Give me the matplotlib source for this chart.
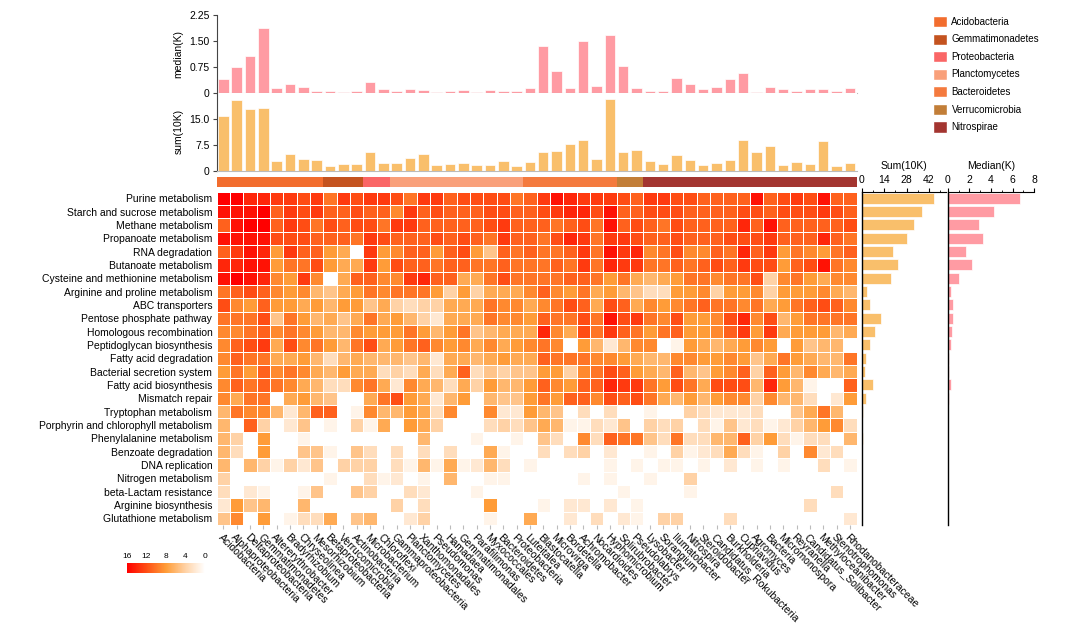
import numpy as np
import matplotlib
matplotlib.use("Agg")
import matplotlib.pyplot as plt
from matplotlib.colors import LinearSegmentedColormap, ListedColormap
from matplotlib.patches import Patch
from matplotlib.ticker import AutoMinorLocator

plt.rcParams["font.family"] = ["Liberation Sans", "DejaVu Sans"]

genera = [
    "Acidobacteria", "Alphaproteobacteria", "Deltaproteobacteria", "Gemmatimonadetes",
    "Altererythrobacter", "Bradyrhizobium", "Chryseolinea", "Mesorhizobium",
    "Betaproteobacteria", "Verrucomicrobia", "Actinobacteria", "Microbacterium",
    "Chloroflexi", "Gammaproteobacteria", "Planctomycetes", "Xanthomonadales",
    "Pseudomonas", "Hamadaea", "Gemmatimonadales", "Parafilimonas",
    "Myxococcales", "Bacteroidetes", "Proteobacteria", "Luteitalea",
    "Blastocatella", "Microvirga", "Bordetella", "Achromobacter",
    "Nocardioides", "Hyphomicrobium", "Solirubrobacter", "Pseudolabrys",
    "Lysobacter", "Sorangium", "Ilumatobacter", "Nitrospira",
    "Steroidobacter", "Candidatus_Rokubacteria", "Burkholderia", "Cupriavidus",
    "Agromyces", "Bacteria", "Micromonospora", "Reyranella",
    "Candidatus_Solibacter", "Methyloceanibacter", "Stenotrophomonas", "Rhodanobacteraceae",
]

pathways = [
    "Purine metabolism", "Starch and sucrose metabolism", "Methane metabolism",
    "Propanoate metabolism", "RNA degradation", "Butanoate metabolism",
    "Cysteine and methionine metabolism", "Arginine and proline metabolism",
    "ABC transporters", "Pentose phosphate pathway", "Homologous recombination",
    "Peptidoglycan biosynthesis", "Fatty acid degradation", "Bacterial secretion system",
    "Fatty acid biosynthesis", "Mismatch repair", "Tryptophan metabolism",
    "Porphyrin and chlorophyll metabolism", "Phenylalanine metabolism",
    "Benzoate degradation", "DNA replication", "Nitrogen metabolism",
    "beta-Lactam resistance", "Arginine biosynthesis", "Glutathione metabolism",
]

phyla = ["Acidobacteria", "Gemmatimonadetes", "Proteobacteria", "Planctomycetes",
         "Bacteroidetes", "Verrucomicrobia", "Nitrospirae"]
phylum_colors = ["#F26D2E", "#C4531F", "#FA6666", "#F9A07A", "#F47A3E", "#C27E38", "#A33530"]
phylum_counts = [8, 3, 2, 10, 7, 2, 16]

median_k = [0.40, 0.75, 1.06, 1.86, 0.15, 0.26, 0.16, 0.05, 0.04, 0.02, 0.06, 0.32,
            0.10, 0.05, 0.12, 0.08, 0.01, 0.05, 0.07, 0.01, 0.07, 0.05, 0.04, 0.15,
            1.35, 0.62, 0.14, 1.49, 0.20, 1.66, 0.77, 0.13, 0.06, 0.06, 0.42, 0.25,
            0.11, 0.17, 0.41, 0.57, 0.02, 0.16, 0.11, 0.06, 0.12, 0.11, 0.05, 0.14]

sum_10k = [15.9, 20.4, 17.9, 18.2, 2.7, 4.9, 3.3, 3.1, 1.5, 1.9, 2.0, 5.5,
           2.3, 2.1, 3.6, 4.7, 1.7, 2.0, 2.1, 1.6, 1.7, 2.8, 1.5, 2.4,
           5.4, 5.6, 7.8, 9.0, 3.3, 20.6, 5.3, 6.0, 2.9, 2.0, 4.5, 3.0,
           1.7, 2.3, 3.2, 8.8, 5.4, 7.0, 1.7, 2.4, 1.9, 8.7, 1.4, 2.3]

path_sum = [45.3, 37.4, 32.8, 28.3, 19.3, 22.9, 18.1, 3.1, 5.0, 11.9, 8.3, 5.4, 2.9,
            2.3, 7.1, 2.5, 1.0, 0.4, 1.0, 0.4, 0.2, 0.1, 0.1, 0.1, 0.3]
path_median = [6.68, 4.31, 2.89, 3.26, 1.66, 2.25, 1.05, 0.28, 0.46, 0.52, 0.37, 0.31, 0.12,
               0.15, 0.28, 0.12, 0.03, 0.0, 0.0, 0.0, 0.0, 0.0, 0.0, 0.0, 0.0]

heat = [
    [16, 16, 14, 14, 13, 13, 12, 13, 10, 13, 12, 13, 13, 12, 10, 13, 13, 11, 12, 12, 12, 12, 10, 11,
     13, 15, 14, 13, 13, 13, 12, 11, 13, 13, 12, 12, 11, 11, 11, 11, 15, 11, 12, 13, 12, 15, 11, 11],
    [15, 15, 15, 16, 11, 13, 12, 13, 11, 11, 12, 11, 11, 9, 13, 11, 12, 11, 11, 11, 12, 12, 11, 11,
     12, 13, 14, 14, 12, 15, 11, 11, 12, 12, 12, 11, 11, 11, 11, 12, 12, 11, 12, 12, 12, 13, 12, 11],
    [11, 15, 16, 16, 11, 13, 12, 10, 12, 11, 12, 12, 10, 13, 13, 11, 11, 11, 11, 11, 12, 13, 11, 11,
     11, 10, 11, 12, 10, 15, 11, 12, 11, 10, 12, 11, 11, 11, 11, 14, 11, 15, 11, 11, 11, 11, 11, 12],
    [15, 15, 15, 15, 12, 12, 12, 11, 11, 11, 10, 13, 12, 11, 11, 11, 12, 11, 12, 11, 10, 13, 11, 11,
     10, 12, 14, 13, 10, 13, 13, 12, 11, 11, 12, 11, 11, 11, 12, 12, 12, 13, 11, 11, 11, 14, 11, 10],
    [11, 13, 15, 14, 8, 13, 11, 11, 8, 7, 0, 13, 8, 9, 11, 11, 8, 11, 12, 8, 5, 11, 10, 11,
     10, 10, 11, 13, 10, 15, 13, 14, 9, 10, 12, 9, 9, 11, 10, 14, 11, 13, 8, 10, 9, 8, 10, 11],
    [14, 14, 15, 15, 8, 10, 10, 12, 8, 7, 7, 13, 8, 12, 11, 11, 10, 11, 11, 10, 10, 11, 10, 10,
     10, 11, 10, 13, 10, 14, 13, 13, 10, 10, 11, 10, 11, 12, 11, 13, 12, 12, 8, 11, 12, 15, 10, 9],
    [15, 16, 15, 14, 9, 8, 13, 9, 0, 7, 11, 11, 9, 9, 13, 14, 11, 11, 7, 7, 10, 12, 10, 10,
     10, 10, 11, 11, 10, 8, 10, 7, 6, 7, 8, 10, 10, 9, 10, 10, 12, 4, 9, 10, 8, 7, 9, 9],
    [10, 11, 12, 11, 9, 8, 9, 6, 5, 7, 8, 10, 9, 10, 10, 10, 8, 4, 8, 4, 7, 7, 7, 9,
     11, 9, 8, 10, 7, 8, 6, 5, 3, 3, 8, 8, 9, 4, 8, 8, 9, 4, 8, 8, 8, 9, 7, 6],
    [12, 9, 8, 11, 8, 8, 7, 8, 6, 8, 8, 5, 7, 4, 3, 4, 4, 7, 7, 7, 10, 9, 9, 7,
     9, 10, 12, 11, 7, 12, 11, 7, 9, 8, 9, 10, 11, 10, 10, 9, 10, 7, 8, 10, 11, 12, 11, 9],
    [10, 10, 10, 12, 5, 10, 8, 6, 7, 5, 7, 10, 7, 8, 6, 4, 2, 7, 7, 7, 10, 9, 9, 8,
     11, 10, 10, 12, 10, 15, 12, 13, 10, 9, 12, 8, 8, 9, 12, 14, 9, 12, 6, 8, 10, 10, 10, 10],
    [9, 9, 10, 11, 9, 10, 9, 8, 6, 6, 9, 8, 8, 8, 10, 8, 6, 8, 10, 5, 6, 7, 7, 7,
     14, 9, 7, 12, 10, 13, 11, 10, 8, 10, 11, 8, 8, 9, 11, 13, 8, 13, 7, 8, 8, 8, 6, 7],
    [9, 11, 12, 13, 7, 12, 9, 10, 8, 6, 10, 12, 7, 8, 10, 11, 9, 8, 9, 7, 9, 7, 8, 9,
     10, 9, 0, 8, 6, 2, 6, 9, 9, 0, 1, 8, 7, 6, 7, 8, 9, 8, 0, 8, 5, 6, 6, 0],
    [9, 11, 10, 10, 7, 7, 8, 6, 3, 6, 7, 6, 6, 6, 5, 6, 2, 7, 7, 6, 7, 8, 7, 7,
     11, 10, 10, 10, 9, 9, 8, 7, 6, 6, 9, 9, 8, 8, 9, 8, 5, 7, 10, 8, 7, 6, 6, 10],
    [8, 10, 8, 11, 9, 10, 9, 7, 6, 8, 7, 7, 3, 4, 3, 7, 3, 7, 11, 3, 5, 4, 5, 5,
     8, 8, 4, 9, 10, 12, 11, 8, 7, 6, 11, 6, 5, 8, 9, 11, 4, 11, 8, 6, 9, 7, 6, 7],
    [9, 11, 10, 11, 10, 9, 7, 6, 3, 3, 9, 10, 7, 2, 9, 7, 6, 3, 7, 4, 8, 6, 6, 8,
     11, 9, 8, 11, 11, 14, 13, 13, 10, 8, 12, 10, 7, 12, 12, 12, 6, 14, 8, 6, 1, 0, 0, 11],
    [9, 7, 10, 10, 0, 7, 8, 6, 5, 0, 0, 7, 10, 12, 8, 7, 2, 6, 8, 0, 6, 5, 5, 8,
     10, 8, 11, 11, 9, 12, 11, 12, 10, 7, 6, 8, 6, 8, 9, 9, 4, 9, 6, 6, 3, 0, 2, 8],
    [6, 10, 9, 9, 6, 2, 6, 11, 11, 0, 1, 9, 6, 6, 8, 7, 3, 9, 0, 0, 9, 2, 2, 8,
     6, 5, 0, 3, 0, 3, 0, 0, 1, 0, 0, 4, 3, 2, 2, 2, 3, 0, 0, 5, 7, 10, 6, 0],
    [6, 0, 11, 4, 0, 2, 5, 0, 1, 0, 4, 1, 7, 0, 8, 7, 4, 0, 0, 0, 3, 4, 3, 5,
     7, 6, 1, 1, 3, 2, 5, 0, 4, 3, 4, 0, 3, 1, 5, 2, 3, 1, 2, 4, 6, 8, 9, 3],
    [6, 4, 0, 8, 0, 0, 1, 0, 0, 0, 0, 0, 0, 0, 0, 6, 0, 0, 0, 1, 0, 0, 1, 0,
     5, 3, 0, 9, 3, 11, 10, 10, 5, 3, 10, 3, 3, 6, 6, 11, 4, 8, 3, 1, 3, 3, 0, 6],
    [6, 3, 0, 8, 0, 0, 5, 5, 1, 0, 5, 3, 0, 3, 0, 3, 0, 3, 0, 0, 7, 1, 0, 0,
     3, 0, 3, 4, 0, 2, 0, 0, 1, 0, 4, 1, 2, 3, 7, 3, 1, 0, 4, 0, 9, 2, 3, 0],
    [6, 0, 6, 4, 1, 4, 2, 5, 0, 4, 4, 4, 0, 3, 1, 6, 1, 7, 1, 2, 6, 3, 0, 1,
     0, 0, 0, 0, 0, 1, 0, 1, 0, 1, 1, 0, 1, 0, 2, 0, 1, 0, 1, 0, 0, 3, 0, 1],
    [4, 0, 0, 0, 0, 0, 0, 0, 1, 0, 0, 3, 1, 2, 0, 1, 0, 6, 0, 0, 1, 1, 0, 0,
     0, 0, 0, 1, 0, 1, 0, 0, 1, 0, 0, 4, 0, 0, 0, 0, 0, 0, 0, 0, 0, 0, 0, 0],
    [3, 0, 2, 1, 0, 0, 1, 5, 0, 0, 5, 4, 0, 0, 3, 2, 0, 0, 0, 1, 0, 0, 0, 0,
     0, 0, 0, 0, 0, 0, 1, 0, 0, 0, 0, 1, 0, 0, 0, 0, 0, 0, 0, 0, 0, 0, 3, 0],
    [2, 8, 5, 6, 0, 0, 6, 0, 0, 0, 0, 0, 0, 4, 0, 3, 0, 0, 0, 0, 8, 0, 0, 0,
     1, 0, 2, 2, 0, 2, 0, 1, 0, 0, 0, 0, 0, 0, 0, 0, 0, 0, 0, 0, 3, 0, 0, 0],
    [5, 9, 0, 8, 0, 1, 3, 3, 7, 0, 5, 6, 0, 0, 2, 4, 0, 0, 0, 0, 1, 0, 0, 7,
     0, 0, 2, 0, 3, 0, 2, 1, 0, 4, 4, 0, 0, 0, 3, 0, 0, 0, 0, 0, 0, 0, 0, 2],
]

W, H = 1080, 630
MED_COLOR = "#FF9BA3"
SUM_COLOR = "#F9BF6B"
FS = 7.5


def px(x, y, w, h):
    """Pixel box (left, top, width, height) -> figure fraction rect."""
    return [x / W, 1 - (y + h) / H, w / W, h / H]


fig = plt.figure(figsize=(W / 100, H / 100), dpi=100)

heat = np.array(heat)
n_rows, n_cols = heat.shape
xc = np.arange(n_cols) + 0.5

cmap = LinearSegmentedColormap.from_list(
    "heat", [(0, "#FFFFFF"), (0.25, "#FFD2A6"), (0.5, "#FF9D38"),
             (0.75, "#FF4E14"), (1, "#FF0000")])

# heatmap
ax = fig.add_axes(px(216.5, 191.5, 640, 333.5))
mesh = ax.pcolormesh(np.arange(n_cols + 1), np.arange(n_rows + 1), heat, cmap=cmap,
                     vmin=0, vmax=16, edgecolors="white", linewidth=0.6)
ax.set_xlim(0, n_cols)
ax.set_ylim(n_rows, 0)
ax.set_yticks(np.arange(n_rows) + 0.5)
ax.set_yticklabels(pathways, fontsize=FS)
ax.tick_params(axis="y", length=0, pad=3)
ax.set_xticks(xc)
ax.set_xticklabels(genera, fontsize=FS, rotation=-45, ha="left", va="top",
                   rotation_mode="anchor")
ax.tick_params(axis="x", length=3, color="#BBBBBB", pad=2)
for s in ax.spines.values():
    s.set_visible(False)

# phylum strip
ax_ph = fig.add_axes(px(216.5, 176.7, 640, 10.6))
ph_idx = np.repeat(np.arange(len(phyla)), phylum_counts)
ax_ph.pcolormesh(np.arange(n_cols + 1), [0, 1], ph_idx[np.newaxis, :],
                 cmap=ListedColormap(phylum_colors), vmin=-0.5, vmax=len(phyla) - 0.5)
ax_ph.set_xlim(0, n_cols)
ax_ph.set_ylim(0, 1)
ax_ph.axis("off")

# top bars: median and sum
ax_med = fig.add_axes(px(216.5, 15, 640, 77.7))
ax_med.bar(xc, median_k, width=0.8, color=MED_COLOR, edgecolor="white", linewidth=0.5)
ax_med.set_xlim(0, n_cols)
ax_med.set_ylim(0, 2.25)
ax_med.set_yticks([0, 0.75, 1.5, 2.25])
ax_med.set_yticklabels(["0", "0.75", "1.50", "2.25"])
ax_med.set_ylabel("median(K)", fontsize=FS)

ax_sum = fig.add_axes(px(216.5, 92.7, 640, 78))
ax_sum.bar(xc, sum_10k, width=0.8, color=SUM_COLOR, edgecolor="white", linewidth=0.5)
ax_sum.set_xlim(0, n_cols)
ax_sum.set_ylim(0, 22.5)
ax_sum.set_yticks([0, 7.5, 15])
ax_sum.set_yticklabels(["0", "7.5", "15.0"])
ax_sum.set_ylabel("sum(10K)", fontsize=FS)

for a in (ax_med, ax_sum):
    a.set_xticks([])
    a.tick_params(axis="y", labelsize=FS, length=3, color="#444444", pad=2)
    a.spines["top"].set_visible(False)
    a.spines["right"].set_visible(False)
    a.spines["bottom"].set_color("#BBBBBB")
    a.spines["left"].set_color("#444444")
    a.spines["left"].set_linewidth(0.8)

# right bars
yc = np.arange(n_rows) + 0.5
ax_rs = fig.add_axes(px(861.7, 191.5, 84, 333.5))
ax_rs.barh(yc, path_sum, height=0.82, color=SUM_COLOR, edgecolor="white", linewidth=0.5)
ax_rs.set_xlim(0, 52.5)
ax_rs.set_xticks([0, 14, 28, 42])
ax_rs.set_xlabel("Sum(10K)", fontsize=FS, labelpad=4)

ax_rm = fig.add_axes(px(947.7, 191.5, 86.6, 333.5))
ax_rm.barh(yc, path_median, height=0.82, color=MED_COLOR, edgecolor="white", linewidth=0.5)
ax_rm.set_xlim(0, 8)
ax_rm.set_xticks([0, 2, 4, 6, 8])
ax_rm.set_xlabel("Median(K)", fontsize=FS, labelpad=4)

for a in (ax_rs, ax_rm):
    a.set_ylim(n_rows, 0)
    a.set_yticks([])
    a.xaxis.set_ticks_position("top")
    a.xaxis.set_label_position("top")
    a.xaxis.set_minor_locator(AutoMinorLocator(2))
    a.tick_params(axis="x", which="major", labelsize=FS, length=3, pad=2)
    a.tick_params(axis="x", which="minor", length=1.5)
    a.spines["right"].set_visible(False)
    a.spines["bottom"].set_visible(False)
    a.spines["left"].set_linewidth(1.0)
    a.spines["top"].set_linewidth(0.8)

# colour key
cax = fig.add_axes(px(127, 563, 78, 10))
cb = fig.colorbar(mesh, cax=cax, orientation="horizontal")
cb.set_ticks([0, 4, 8, 12, 16])
cb.outline.set_visible(False)
cax.invert_xaxis()
cax.xaxis.set_ticks_position("top")
cax.tick_params(labelsize=6, length=0, pad=2)

# phylum legend
handles = [Patch(facecolor=c, edgecolor="white", label=p)
           for p, c in zip(phyla, phylum_colors)]
fig.legend(handles=handles, loc="upper left", bbox_to_anchor=(933 / W, 1 - 16 / H),
           frameon=False, fontsize=7, handlelength=1.4, handleheight=1.4,
           labelspacing=0.65, handletextpad=0.5, borderpad=0, borderaxespad=0)

fig.savefig("out.png", dpi=100)
